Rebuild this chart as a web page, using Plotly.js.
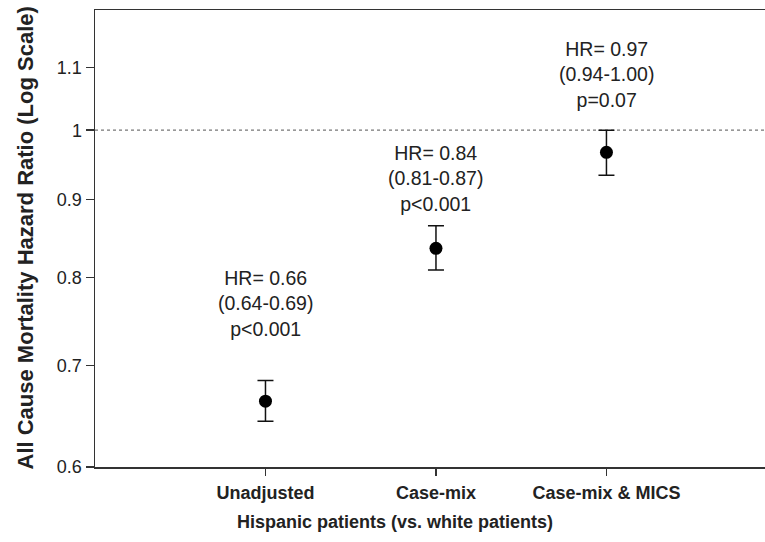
<!DOCTYPE html>
<html>
<head>
<meta charset="utf-8">
<script src="https://cdn.plot.ly/plotly-3.0.1.min.js"></script>
<style>html,body{margin:0;padding:0;background:#fff;}#chart{width:765px;height:542px;}</style>
</head>
<body>
<div id="chart"></div>
<script>
// ---- data ----
const categories = ['Unadjusted', 'Case-mix', 'Case-mix & MICS'];
const hazardRatio = [0.663, 0.836, 0.967];
const ciLow = [0.643, 0.809, 0.934];
const ciHigh = [0.684, 0.865, 1.0];
const hrText = ['HR= 0.66', 'HR= 0.84', 'HR= 0.97'];
const ciText = ['(0.64-0.69)', '(0.81-0.87)', '(0.94-1.00)'];
const pText = ['p&lt;0.001', 'p&lt;0.001', 'p=0.07'];
const yTickVals = [0.6, 0.7, 0.8, 0.9, 1, 1.1];
const yTickText = ['0.6', '0.7', '0.8', '0.9', '1', '1.1'];
const refValue = 1;

// ---- styling / layout constants ----
const FONT = 'Liberation Sans, Arial, Helvetica, sans-serif';
const INK = '#222';
const labelShift = [39, 9, 17]; // pixel gap between CI cap and label block

const trace = {
  type: 'scatter',
  mode: 'markers',
  x: categories,
  y: hazardRatio,
  marker: {color: '#000', size: 13, symbol: 'circle'},
  error_y: {
    type: 'data',
    symmetric: false,
    array: hazardRatio.map((v, i) => ciHigh[i] - v),
    arrayminus: hazardRatio.map((v, i) => v - ciLow[i]),
    color: '#111',
    thickness: 1.5,
    width: 8
  },
  hoverinfo: 'skip',
  showlegend: false,
  cliponaxis: false
};

const annotations = categories.map((c, i) => ({
  x: c, y: Math.log10(ciHigh[i]), xref: 'x', yref: 'y',
  text: hrText[i] + '<br>' + ciText[i] + '<br>' + pText[i],
  showarrow: false, xanchor: 'center', yanchor: 'bottom',
  yshift: labelShift[i],
  font: {family: FONT, size: 19.5, color: INK}
}));

annotations.push({
  xref: 'paper', yref: 'paper', x: 0, y: 0.5, xshift: -70,
  xanchor: 'center', yanchor: 'middle', textangle: -90, showarrow: false,
  text: '<b>All Cause Mortality Hazard Ratio (Log Scale)</b>',
  font: {family: FONT, size: 22, color: INK}
});
annotations.push({
  xref: 'paper', yref: 'paper', x: 0.4478, y: 0, yshift: -55,
  xanchor: 'center', yanchor: 'middle', showarrow: false,
  text: '<b>Hispanic patients (vs. white patients)</b>',
  font: {family: FONT, size: 18, color: INK}
});

const layout = {
  width: 765, height: 542,
  margin: {l: 95, r: 0, t: 10, b: 75},
  paper_bgcolor: '#fff', plot_bgcolor: '#fff',
  font: {family: FONT, color: INK},
  xaxis: {
    type: 'category',
    range: [-1, 2.93],
    showline: true, linecolor: '#333', linewidth: 1.5, mirror: true,
    ticks: 'outside', ticklen: 7, tickwidth: 1.5, tickcolor: '#333',
    showgrid: false, zeroline: false,
    tickfont: {family: FONT, size: 18, color: INK, weight: 'bold'},
    ticklabelstandoff: 2,
    fixedrange: true
  },
  yaxis: {
    type: 'log',
    range: [Math.log10(0.6), Math.log10(1.2)],
    tickmode: 'array', tickvals: yTickVals, ticktext: yTickText,
    showline: true, linecolor: '#333', linewidth: 1.5, mirror: false,
    ticks: 'outside', ticklen: 8, tickwidth: 1.5, tickcolor: '#333',
    showgrid: false, zeroline: false,
    tickfont: {family: FONT, size: 18, color: INK},
    fixedrange: true
  },
  shapes: [{
    type: 'line', xref: 'paper', yref: 'y',
    x0: 0, x1: 1, y0: refValue, y1: refValue,
    line: {color: '#777', width: 1.2, dash: 'dot'},
    layer: 'below'
  }],
  annotations: annotations
};

Plotly.newPlot('chart', [trace], layout, {displayModeBar: false, staticPlot: true});
</script>
</body>
</html>
